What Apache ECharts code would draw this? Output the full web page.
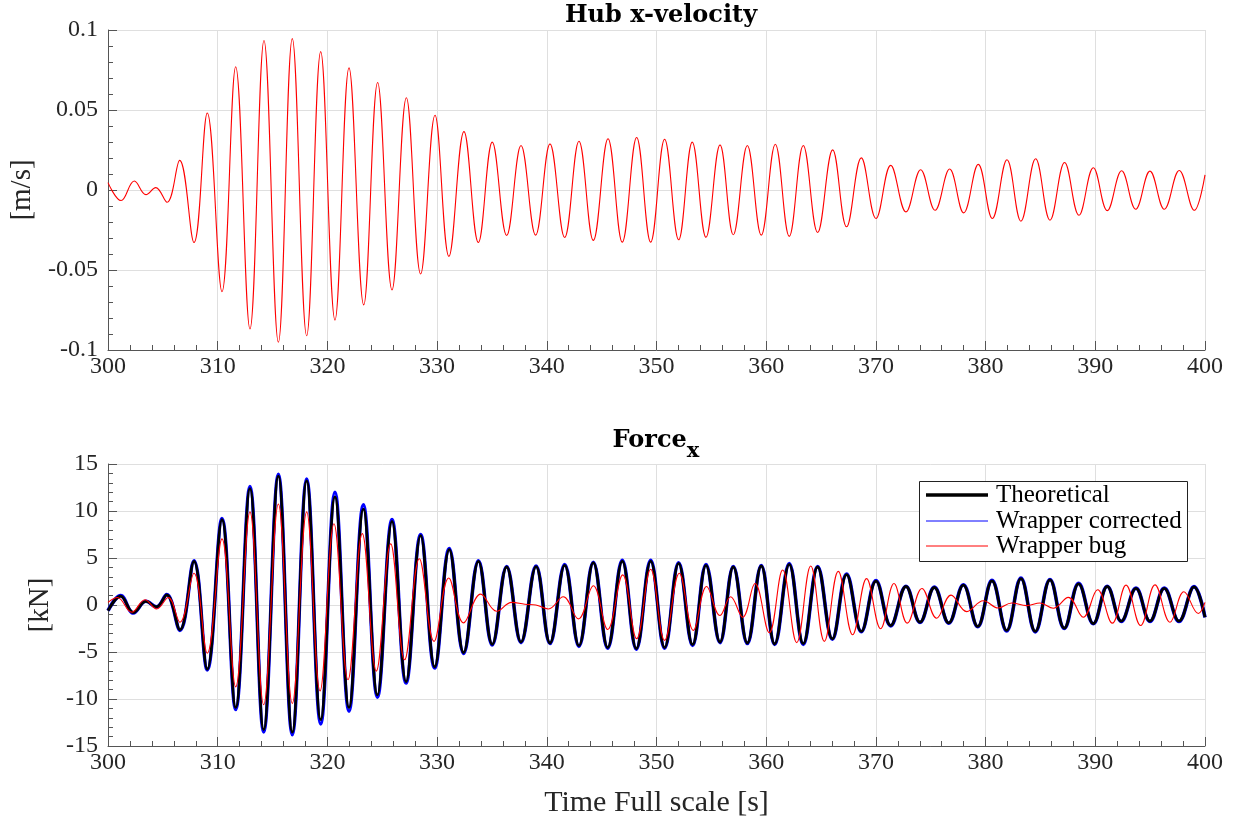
<!DOCTYPE html>
<html>
<head>
<meta charset="utf-8">
<script src="https://cdn.jsdelivr.net/npm/echarts@6/dist/echarts.min.js"></script>
<style>
html,body{margin:0;padding:0;background:#fff;}
#chart{width:1245px;height:821px;}
</style>
</head>
<body>
<div id="chart"></div>
<script>
// ---- Hub x-velocity (extrema) ----
var velT = [300,301.19,302.4,303.46,304.35,305.38,306.53,307.84,309.05,310.39,311.64,312.94,314.22,315.53,316.8,318.11,319.39,320.69,321.97,323.31,324.58,325.89,327.2,328.5,329.81,331.08,332.45,333.76,335.03,336.34,337.65,338.98,340.29,341.63,342.93,344.24,345.58,346.88,348.19,349.47,350.74,352.02,353.26,354.51,355.79,357.0,358.28,359.55,360.83,362.1,363.38,364.69,366.06,367.33,368.67,370.01,371.35,372.74,374.08,375.39,376.72,378.0,379.33,380.61,381.95,383.22,384.56,385.87,387.2,388.51,389.82,391.09,392.4,393.68,394.98,396.29,397.65,399.02,400];
var velV = [0.0046,-0.0066,0.0056,-0.0029,0.0015,-0.0077,0.0185,-0.0328,0.0481,-0.0635,0.077,-0.0869,0.0934,-0.0952,0.0946,-0.0911,0.0865,-0.0813,0.0763,-0.0718,0.0672,-0.0624,0.0577,-0.0525,0.0467,-0.0415,0.0365,-0.0328,0.0299,-0.0284,0.0278,-0.0282,0.0288,-0.0297,0.0305,-0.0315,0.032,-0.0326,0.0328,-0.0326,0.0317,-0.0311,0.0299,-0.0295,0.0282,-0.028,0.0278,-0.0282,0.0286,-0.029,0.0278,-0.0266,0.0251,-0.023,0.0201,-0.0178,0.0154,-0.0137,0.0127,-0.0127,0.0131,-0.0143,0.016,-0.0178,0.0189,-0.0195,0.0195,-0.0189,0.0172,-0.0158,0.0139,-0.0129,0.012,-0.012,0.0118,-0.012,0.0122,-0.0127,0.0095];

// ---- Force_x : Theoretical / Wrapper corrected (same sample times) ----
var forceT = [300,301.15,302.31,303.46,304.42,305.35,306.56,307.84,309.05,310.39,311.64,312.94,314.19,315.53,316.8,318.11,319.39,320.69,321.97,323.28,324.56,325.89,327.17,328.5,329.78,331.11,332.42,333.77,335.03,336.34,337.65,339.02,340.29,341.63,342.93,344.24,345.55,346.88,348.16,349.47,350.74,352.02,353.29,354.51,355.79,357.0,358.28,359.55,360.77,362.1,363.38,364.69,366.03,367.33,368.67,370.01,371.35,372.74,374.02,375.33,376.64,377.97,379.28,380.58,381.92,383.22,384.53,385.87,387.17,388.48,389.82,391.09,392.37,393.71,394.98,396.29,397.63,399.0,400];
var theoV = [-0.6,0.95,-0.8,0.38,-0.2,1.08,-2.64,4.64,-6.82,9.07,-10.9,12.37,-13.25,13.7,-13.53,13.2,-12.2,11.5,-10.9,10.2,-9.56,8.89,-8.15,7.38,-6.57,5.9,-5.06,4.64,-4.18,4.04,-3.94,4.08,-4.04,4.22,-4.32,4.5,-4.53,4.67,-4.64,4.67,-4.53,4.43,-4.22,4.22,-3.94,4.04,-4.04,4.15,-4.15,4.32,-4.11,4.04,-3.6,3.23,-2.81,2.53,-2.18,1.97,-1.83,1.86,-1.9,2.11,-2.28,2.57,-2.71,2.81,-2.81,2.67,-2.46,2.25,-1.97,1.97,-1.72,1.76,-1.72,1.76,-1.72,1.93,-1.3];
var corrV = [-0.6,1.0,-0.85,0.4,-0.2,1.1,-2.7,4.7,-6.9,9.2,-11.1,12.6,-13.5,13.9,-13.8,13.4,-12.65,12.0,-11.3,10.65,-9.8,9.1,-8.3,7.5,-6.7,6.0,-5.15,4.7,-4.25,4.1,-4.0,4.15,-4.1,4.3,-4.4,4.55,-4.6,4.75,-4.7,4.75,-4.6,4.5,-4.3,4.3,-4.0,4.1,-4.1,4.2,-4.2,4.4,-4.2,4.1,-3.65,3.3,-2.85,2.6,-2.22,2.0,-1.86,1.9,-1.94,2.15,-2.32,2.62,-2.76,2.86,-2.86,2.72,-2.5,2.3,-2.0,2.0,-1.75,1.8,-1.75,1.8,-1.75,1.96,-1.32];

// ---- Force_x : Wrapper bug ----
var bugT = [300,300.85,302.16,303.37,304.43,305.49,306.56,307.84,309.05,310.39,311.64,312.94,314.19,315.53,316.8,318.11,319.33,320.6,321.88,323.18,324.46,325.77,327.04,328.38,329.72,331.06,332.42,333.97,335.43,336.8,338.0,339.0,340.14,341.5,342.87,344.24,345.55,346.92,348.19,349.47,350.74,352.08,353.36,354.57,355.79,356.76,357.85,358.98,360.28,361.5,362.78,364.06,365.3,366.57,367.88,369.15,370.43,371.65,372.86,374.2,375.54,376.85,378.28,379.79,381.16,382.37,383.74,384.96,386.17,387.54,388.9,390.21,391.55,392.8,394.13,395.44,396.81,398.08,399.39,400];
var bugV = [0.28,0.8,-0.77,0.56,-0.42,0.8,-1.83,3.37,-5.13,7.03,-8.71,9.91,-10.61,10.75,-10.47,9.91,-9.14,8.64,-7.94,7.59,-7.03,6.5,-5.83,4.92,-3.87,2.88,-1.9,1.16,-0.67,0.28,0.08,0.0,-0.42,0.88,-1.48,2.04,-2.6,3.2,-3.58,3.8,-3.76,3.37,-2.7,1.97,-1.12,0.88,-1.3,2.28,-2.95,3.72,-4.0,4.15,-3.87,3.58,-3.16,2.81,-2.53,2.28,-1.93,1.76,-1.41,1.05,-0.7,0.46,-0.32,0.21,-0.07,0.21,-0.35,0.81,-1.3,1.62,-1.93,2.11,-2.18,2.14,-1.83,1.41,-0.91,0.28];

var seriesNames = ['Theoretical','Wrapper corrected','Wrapper bug'];
var seriesColors = ['#000000','#0000ff','#ff0000'];
var titles = ['Hub x-velocity','Force','x'];
var yNames = ['[m/s]','[kN]'];
var xName = 'Time Full scale [s]';

function zip(t, v){ return t.map(function(x,i){ return [x, v[i]]; }); }

var FONT = "'Liberation Serif','DejaVu Serif',serif";
var BFONT = "'DejaVu Serif','Liberation Serif',serif";
var AX = '#262626';
var GRID = '#dfdfdf';

function xAxisCfg(gi, withName){
  return {
    type:'value', gridIndex:gi, min:300, max:400, interval:10,
    axisLine:{show:true, onZero:false, lineStyle:{color:'#555', width:1}},
    axisTick:{show:true, inside:true, length:9, lineStyle:{color:'#555'}},
    minorTick:{show:true, splitNumber:5, length:5, lineStyle:{color:'#555'}},
    splitLine:{show:true, lineStyle:{color:GRID, width:1}},
    axisLabel:{color:AX, fontFamily:FONT, fontSize:24, margin:5},
    name: withName ? xName : '', nameLocation:'middle', nameGap:42,
    nameTextStyle:{color:AX, fontFamily:FONT, fontSize:30}
  };
}
function yAxisCfg(gi, min, max, interval, name, gap, fmt){
  return {
    type:'value', gridIndex:gi, min:min, max:max, interval:interval,
    axisLine:{show:true, onZero:false, lineStyle:{color:'#555', width:1}},
    axisTick:{show:true, inside:true, length:9, lineStyle:{color:'#555'}},
    minorTick:{show:true, splitNumber:5, length:5, lineStyle:{color:'#555'}},
    splitLine:{show:true, lineStyle:{color:GRID, width:1}},
    axisLabel:{color:AX, fontFamily:FONT, fontSize:24, margin:10, formatter:fmt},
    name:name, nameLocation:'middle', nameGap:gap, nameRotate:90,
    nameTextStyle:{color:AX, fontFamily:FONT, fontSize:29}
  };
}

// Legend box drawn as graphic elements (line samples: thick black, thin blue, thin red)
var LEG = {x:919, y:481, w:268, h:80, rowY:[495,521,546], lineX0:926, lineX1:988, textX:996, widths:[3.5,1,1]};
var legendGraphics = [{
  type:'rect', z:100, shape:{x:LEG.x+0.5, y:LEG.y+0.5, width:LEG.w, height:LEG.h},
  style:{fill:'#fff', stroke:'#222', lineWidth:1}
}];
seriesNames.forEach(function(n, i){
  legendGraphics.push({type:'line', z:101,
    shape:{x1:LEG.lineX0, y1:LEG.rowY[i], x2:LEG.lineX1, y2:LEG.rowY[i]},
    style:{stroke:seriesColors[i], lineWidth:LEG.widths[i]}});
  legendGraphics.push({type:'text', z:101, x:LEG.textX, y:LEG.rowY[i],
    style:{text:n, fill:'#000', font:"25px 'Liberation Serif', 'DejaVu Serif', serif", verticalAlign:'middle', align:'left'}});
});

var chart = echarts.init(document.getElementById('chart'), null, {renderer:'canvas'});
chart.setOption({
  backgroundColor:'#fff',
  animation:false,
  title:[
    {text:titles[0], left:656, top:-1, textAlign:'center',
     textStyle:{fontFamily:BFONT, fontSize:24, fontWeight:'bold', color:'#000'}},
    {text:'{a|'+titles[1]+'}{b|'+titles[2]+'}', left:651, top:414, textAlign:'center',
     textStyle:{rich:{
       a:{fontFamily:BFONT, fontSize:24, fontWeight:'bold', color:'#000'},
       b:{fontFamily:BFONT, fontSize:21, fontWeight:'bold', color:'#000', padding:[22,0,0,0]}
     }}}
  ],
  grid:[
    {left:108, right:40, top:30, height:320, outerBoundsMode:'none', containLabel:false},
    {left:108, right:40, top:464, height:282, outerBoundsMode:'none', containLabel:false}
  ],
  xAxis:[xAxisCfg(0,false), xAxisCfg(1,true)],
  yAxis:[
    yAxisCfg(0,-0.1,0.1,0.05,yNames[0],71,function(v){return String(+v.toFixed(2));}),
    yAxisCfg(1,-15,15,5,yNames[1],51,function(v){return String(Math.round(v));})
  ],
  legend:{show:false},
  graphic:{elements:legendGraphics},
  series:[
    {name:'vel', type:'line', xAxisIndex:0, yAxisIndex:0, data:zip(velT,velV), smooth:0.4, symbol:'none',
     lineStyle:{color:'#ff0000', width:1.1}, silent:true},
    {name:seriesNames[1], type:'line', xAxisIndex:1, yAxisIndex:1, data:zip(forceT,corrV), smooth:0.4, symbol:'none',
     lineStyle:{color:seriesColors[1], width:3.6}, itemStyle:{color:seriesColors[1]}, z:2},
    {name:seriesNames[0], type:'line', xAxisIndex:1, yAxisIndex:1, data:zip(forceT,theoV), smooth:0.4, symbol:'none',
     lineStyle:{color:seriesColors[0], width:2.8}, itemStyle:{color:seriesColors[0]}, z:3},
    {name:seriesNames[2], type:'line', xAxisIndex:1, yAxisIndex:1, data:zip(bugT,bugV), smooth:0.4, symbol:'none',
     lineStyle:{color:seriesColors[2], width:1.1}, itemStyle:{color:seriesColors[2]}, z:4}
  ]
});
</script>
</body>
</html>
